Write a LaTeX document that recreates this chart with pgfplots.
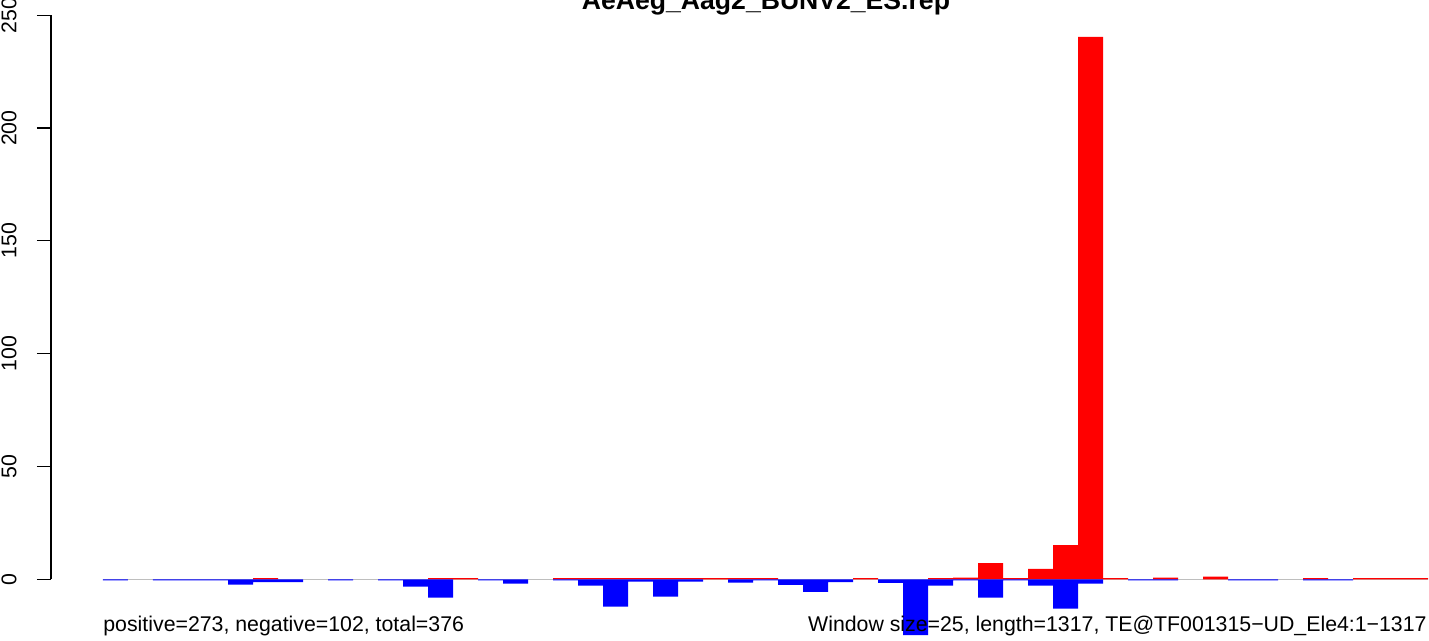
\documentclass[border=0pt]{standalone}
\usepackage{pgfplots}
\pgfplotsset{compat=1.18}
\usepackage{fontspec}
\setmainfont{Liberation Sans}
\definecolor{Rgray}{RGB}{190,190,190}
\begin{document}
\begin{tikzpicture}
\fontsize{10.65}{12.8}\selectfont
\begin{axis}[
  at={(25.5pt,30.85pt)}, anchor=south west,
  scale only axis, width=689pt, height=282pt,
  xmin=-2.58, xmax=52.54, ymin=0, ymax=250,
  clip=false,
  axis y line*=left, axis x line=none,
  ytick={0,50,100,150,200,250},
  tick align=outside, major tick length=7pt,
  every outer y axis line/.append style={line width=0.6pt, black},
  y axis line style={line width=0.6pt, black},
  every tick/.style={line width=0.6pt, black},
  yticklabel style={rotate=90, anchor=south, inner sep=0pt, yshift=10pt},
  /pgf/number format/assume math mode=true,
  tick label style={font=\fontsize{10.65}{12.8}\selectfont},
]
\addplot[draw=Rgray, line width=0.6pt] coordinates {(-0.5,0) (52.5,0)};
\addplot[ybar, bar width=1, bar shift=0pt, fill=red, draw=none] coordinates {
(6,0.5) (13,0.5) (14,0.5) (18,0.5) (19,0.5) (20,0.5) (21,0.5) (22,0.5) (23,0.5) (24,0.5)
(25,0.5) (26,0.5) (30,0.5) (33,0.5) (34,0.7) (35,7.2) (36,0.5) (37,4.6) (38,15.2) (39,240.4)
(40,0.5) (42,0.7) (44,1.2) (48,0.5) (50,0.5) (51,0.5) (52,0.5)};
\addplot[ybar, bar width=1, bar shift=0pt, fill=blue, draw=none] coordinates {
(0,-0.5) (2,-0.5) (3,-0.5) (4,-0.5) (5,-2.4) (6,-1.2) (7,-1.2) (9,-0.5) (11,-0.5) (12,-3.3)
(13,-8.1) (15,-0.5) (16,-1.9) (18,-0.5) (19,-2.8) (20,-12.1) (21,-1.0) (22,-7.7) (23,-1.0)
(25,-1.5) (26,-0.5) (27,-2.5) (28,-5.6) (29,-1.2) (31,-1.6) (32,-24.7) (33,-2.8) (34,-0.5)
(35,-8.1) (36,-0.5) (37,-2.8) (38,-13.0) (39,-1.9) (41,-0.5) (42,-0.5) (45,-0.5) (46,-0.5)
(48,-0.5) (49,-0.5)};
\end{axis}
\node[anchor=base, inner sep=0pt, font=\fontsize{13.3}{16}\selectfont\bfseries] at (383pt,315.75pt) {AeAeg\_Aag2\_BUNV2\_ES.rep};
\node[anchor=base west, inner sep=0pt] at (51.5pt,4.5pt) {positive=273, negative=102, total=376};
\node[anchor=base east, inner sep=0pt] at (713.5pt,4.5pt) {Window size=25, length=1317, TE@TF001315−UD\_Ele4:1−1317};
\pgfresetboundingbox
\useasboundingbox (0,0) rectangle (714.5pt,320.5pt);
\end{tikzpicture}
\end{document}
